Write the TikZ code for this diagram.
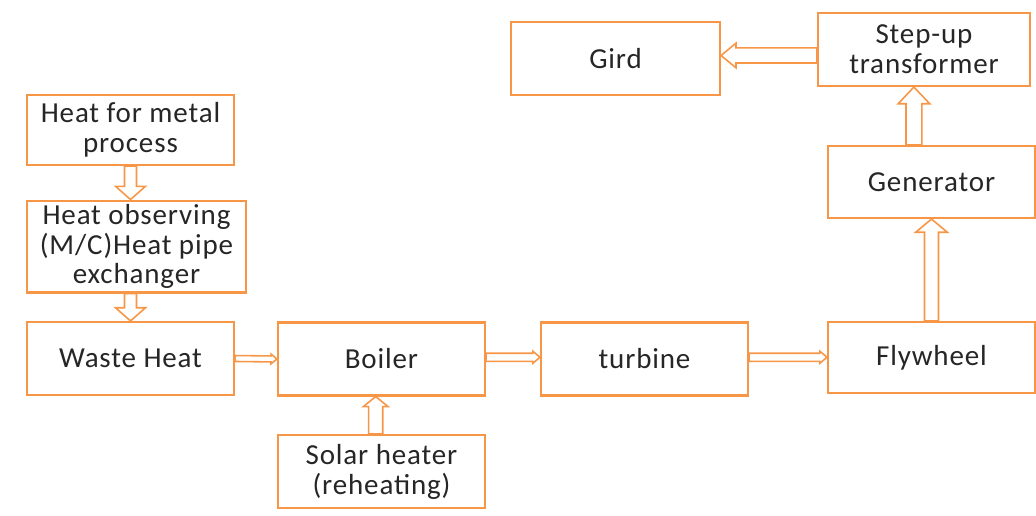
\documentclass[tikz,border=0pt]{standalone}
\usepackage{fontspec}
\setmainfont{Carlito}[LetterSpace=3]
\usetikzlibrary{arrows.meta,positioning,calc}
\definecolor{boxorange}{RGB}{247,150,70}
\definecolor{textgray}{RGB}{38,38,38}

\tikzset{
  block/.style={draw=boxorange,line width=1.2pt,fill=white,align=center,
    minimum width=4.14cm,minimum height=1.46cm,inner sep=2pt,text=textgray,
    font=\fontsize{16.5}{17}\selectfont},
  % hollow block arrow: #1 half shaft, #2 half head, #3 head length
  flow/.style n args={3}{draw=boxorange,line width=0.9pt,fill=white,
    to path={let \p1=(\tikztostart), \p2=(\tikztotarget),
      \n1={atan2(\y2-\y1,\x2-\x1)}, \n2={veclen(\x2-\x1,\y2-\y1)} in
      ([shift={(\p1)},rotate=\n1]0pt,#1)
      -- ([shift={(\p1)},rotate=\n1]{\n2*1pt-#3},#1)
      -- ([shift={(\p1)},rotate=\n1]{\n2*1pt-#3},#2)
      -- (\p2)
      -- ([shift={(\p1)},rotate=\n1]{\n2*1pt-#3},-#2)
      -- ([shift={(\p1)},rotate=\n1]{\n2*1pt-#3},-#1)
      -- ([shift={(\p1)},rotate=\n1]0pt,-#1) -- cycle}}
}

\begin{document}
\begin{tikzpicture}[x=0.02cm,y=-0.02cm]
  \useasboundingbox (0,0) rectangle (1036,515);
  % left column
  \node[block,minimum height=1.40cm] (metal) at (130.5,130) {Heat for metal\\process};
  \node[block,minimum width=4.38cm,minimum height=1.74cm] (observe) at (136.5,246.5) {Heat observing\\(M/C)Heat pipe\\exchanger};
  \node[block] (waste) at (130.5,358.5) {Waste Heat};
  % bottom row
  \node[block] (boiler) at (381.5,359) {Boiler};
  \node[block] (solar) at (381.5,471.5) {Solar heater\\(reheating)};
  \node[block] (turbine) at (644.5,359) {turbine};
  \node[block,minimum height=1.42cm] (flywheel) at (931.5,357.5) {Flywheel};
  % right column and top
  \node[block,minimum height=1.44cm] (generator) at (931.5,182) {Generator};
  \node[block,minimum width=4.24cm] (stepup) at (924,49.5) {Step-up\\transformer};
  \node[block,minimum width=4.18cm] (gird) at (615.5,58.5) {Gird};

  \path[flow={3.4pt}{8.5pt}{7.5pt}] (metal.south) to (observe.north -| metal.south);
  \path[flow={3.4pt}{8.5pt}{7.5pt}] (observe.south -| metal.south) to (waste.north);
  \path[flow={1.7pt}{2.8pt}{3.4pt}] (waste.east) to (boiler.west);
  \path[flow={2.3pt}{3.4pt}{4pt}] ([yshift=1pt]boiler.east) to ([yshift=1pt]turbine.west);
  \path[flow={2.3pt}{3.4pt}{4pt}] ([yshift=1pt]turbine.east) to ([yshift=1pt]turbine.east -| flywheel.west);
  \path[flow={4pt}{7pt}{5.7pt}] ([xshift=-3.3pt]solar.north) to ([xshift=-3.3pt]boiler.south);
  \path[flow={4pt}{9pt}{7.5pt}] (flywheel.north) to (generator.south);
  \path[flow={4.5pt}{9pt}{9.5pt}] ([xshift=-10pt]generator.north) to ([xshift=-10pt]stepup.south -| generator.north);
  \path[flow={4.3pt}{7pt}{8.5pt}] ([yshift=-3.4pt]stepup.west) to ([yshift=-3.4pt]stepup.west -| gird.east);
\end{tikzpicture}
\end{document}
